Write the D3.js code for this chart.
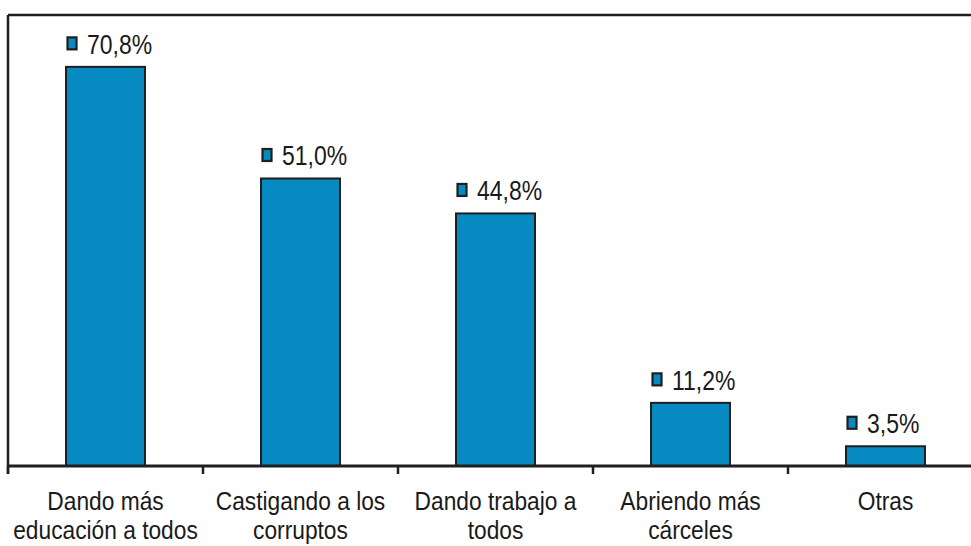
<!DOCTYPE html>
<html><head><meta charset="utf-8">
<script src="https://cdn.jsdelivr.net/npm/d3@7"></script>
<style>html,body{margin:0;padding:0;background:#fff;}svg{display:block;}</style>
</head><body>
<svg id="c" width="971" height="546"></svg>
<script>
const categories = [["Dando más","educación a todos"],["Castigando a los","corruptos"],["Dando trabajo a","todos"],["Abriendo más","cárceles"],["Otras"]];
const values = [70.8, 51.0, 44.8, 11.2, 3.5];
const labels = ["70,8%","51,0%","44,8%","11,2%","3,5%"];

(function(){
const svg = d3.select("#c");
const mL = 8, mR = 983, mT = 15, mB = 466;
const font = "'Liberation Sans',Arial,sans-serif";
const x = d3.scaleBand().domain(d3.range(values.length)).range([mL, mR]).paddingInner(0.595).paddingOuter(0.2975);
const xb = d3.scaleBand().domain(d3.range(values.length)).range([mL, mR]);
const y = d3.scaleLinear().domain([0, 80]).range([mB, mT]);
const fill = "#068ac1", dark = "#1f1f1f", textCol = "#1a1a1a";

svg.append("line").attr("x1", mL).attr("x2", 971).attr("y1", mT).attr("y2", mT).attr("stroke", dark).attr("stroke-width", 2.5);
svg.append("line").attr("x1", mL).attr("x2", mL).attr("y1", mT).attr("y2", mB + 8).attr("stroke", dark).attr("stroke-width", 2.5);

svg.selectAll("rect.bar").data(values).join("rect").attr("class","bar")
  .attr("x", (d,i) => x(i)).attr("width", x.bandwidth())
  .attr("y", d => y(d)).attr("height", d => y(0) - y(d))
  .attr("fill", fill).attr("stroke", dark).attr("stroke-width", 2);

const ax = svg.append("g").attr("transform", `translate(0,${mB})`);
ax.append("line").attr("x1", mL).attr("x2", 971).attr("stroke", dark).attr("stroke-width", 3);
ax.selectAll("line.tick").data(d3.range(values.length)).join("line").attr("class","tick")
  .attr("x1", i => xb(i)).attr("x2", i => xb(i)).attr("y1", 0).attr("y2", 8)
  .attr("stroke", dark).attr("stroke-width", 2.5);

const lg = svg.selectAll("g.lab").data(values).join("g").attr("class","lab")
  .attr("transform", (d,i) => `translate(${x(i)},${y(d)})`);
lg.append("rect").attr("x", 1.5).attr("y", -29.5).attr("width", 9).attr("height", 12)
  .attr("fill", fill).attr("stroke", dark).attr("stroke-width", 2.2);
lg.append("text").attr("transform", "translate(21,-13) scale(0.82,1)").text((d,i) => labels[i])
  .attr("font-family", font).attr("font-size", 28).attr("fill", textCol);

const cg = svg.selectAll("g.cat").data(categories).join("g").attr("class","cat")
  .attr("transform", (d,i) => `translate(${xb(i) + xb.bandwidth()/2},0) scale(0.91,1)`);
cg.append("text").attr("text-anchor", "middle").attr("font-family", font).attr("font-size", 25).attr("fill", textCol)
  .selectAll("tspan").data(d => d).join("tspan")
  .attr("x", 0).attr("y", (d,j) => 510 + j*29).text(d => d);
})();
</script>
</body></html>
